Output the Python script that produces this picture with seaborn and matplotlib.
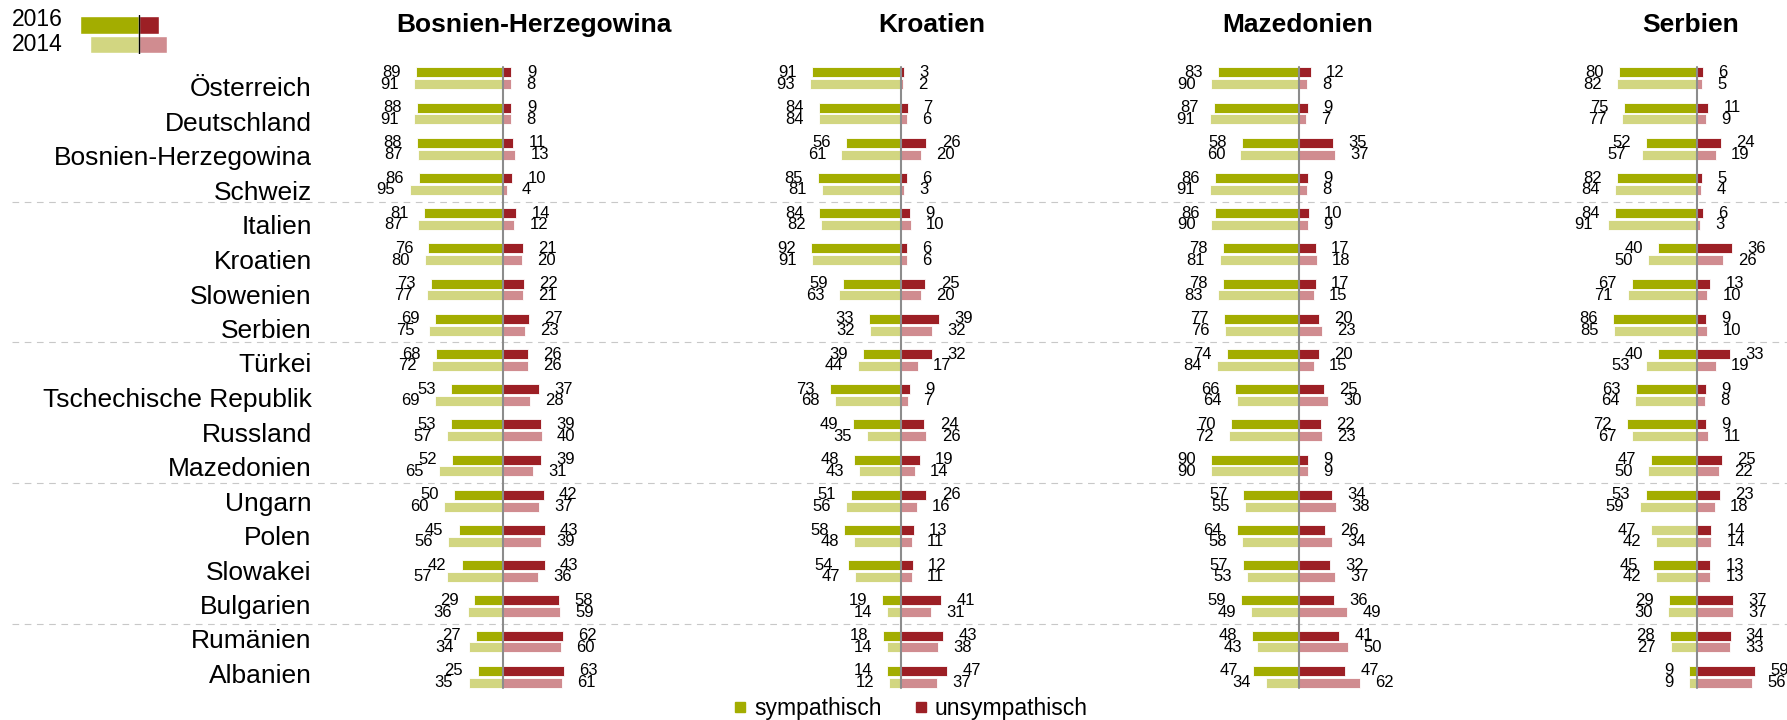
import pandas as pd
import seaborn as sns
import matplotlib.pyplot as plt
from matplotlib.lines import Line2D

sns.set_style("white")
plt.rcParams['font.family'] = ['Liberation Sans', 'DejaVu Sans']
plt.rcParams['text.color'] = 'black'
plt.rcParams['ytick.color'] = 'black'
plt.rcParams['ytick.labelcolor'] = 'black'

# --- Daten ---
COUNTRIES = ["Österreich", "Deutschland", "Bosnien-Herzegowina", "Schweiz",
             "Italien", "Kroatien", "Slowenien", "Serbien",
             "Türkei", "Tschechische Republik", "Russland", "Mazedonien",
             "Ungarn", "Polen", "Slowakei", "Bulgarien",
             "Rumänien", "Albanien"]
PANELS = ["Bosnien-Herzegowina", "Kroatien", "Mazedonien", "Serbien"]
YEARS = ["2016", "2014"]
GROUP_STARTS = [4, 8, 12, 16]   # Trennlinien vor diesen Zeilen

# Bosnien-Herzegowina
BIH_SYM_2016 = [89, 88, 88, 86, 81, 76, 73, 69, 68, 53, 53, 52, 50, 45, 42, 29, 27, 25]
BIH_SYM_2014 = [91, 91, 87, 95, 87, 80, 77, 75, 72, 69, 57, 65, 60, 56, 57, 36, 34, 35]
BIH_UNS_2016 = [9, 9, 11, 10, 14, 21, 22, 27, 26, 37, 39, 39, 42, 43, 43, 58, 62, 63]
BIH_UNS_2014 = [8, 8, 13, 4, 12, 20, 21, 23, 26, 28, 40, 31, 37, 39, 36, 59, 60, 61]
# Kroatien
HR_SYM_2016 = [91, 84, 56, 85, 84, 92, 59, 33, 39, 73, 49, 48, 51, 58, 54, 19, 18, 14]
HR_SYM_2014 = [93, 84, 61, 81, 82, 91, 63, 32, 44, 68, 35, 43, 56, 48, 47, 14, 14, 12]
HR_UNS_2016 = [3, 7, 26, 6, 9, 6, 25, 39, 32, 9, 24, 19, 26, 13, 12, 41, 43, 47]
HR_UNS_2014 = [2, 6, 20, 3, 10, 6, 20, 32, 17, 7, 26, 14, 16, 11, 11, 31, 38, 37]
# Mazedonien
MK_SYM_2016 = [83, 87, 58, 86, 86, 78, 78, 77, 74, 66, 70, 90, 57, 64, 57, 59, 48, 47]
MK_SYM_2014 = [90, 91, 60, 91, 90, 81, 83, 76, 84, 64, 72, 90, 55, 58, 53, 49, 43, 34]
MK_UNS_2016 = [12, 9, 35, 9, 10, 17, 17, 20, 20, 25, 22, 9, 34, 26, 32, 36, 41, 47]
MK_UNS_2014 = [8, 7, 37, 8, 9, 18, 15, 23, 15, 30, 23, 9, 38, 34, 37, 49, 50, 62]
# Serbien
RS_SYM_2016 = [80, 75, 52, 82, 84, 40, 67, 86, 40, 63, 72, 47, 53, 47, 45, 29, 28, 9]
RS_SYM_2014 = [82, 77, 57, 84, 91, 50, 71, 85, 53, 64, 67, 50, 59, 42, 42, 30, 27, 9]
RS_UNS_2016 = [6, 11, 24, 5, 6, 36, 13, 9, 33, 9, 9, 25, 23, 14, 13, 37, 34, 59]
RS_UNS_2014 = [5, 9, 19, 4, 3, 26, 10, 10, 19, 8, 11, 22, 18, 14, 13, 37, 33, 56]

# Mini-Legende oben links
LEG_SYM = [59, 49]
LEG_UNS = [20, 28]

SERIES = {
    "Bosnien-Herzegowina": (BIH_SYM_2016, BIH_SYM_2014, BIH_UNS_2016, BIH_UNS_2014),
    "Kroatien": (HR_SYM_2016, HR_SYM_2014, HR_UNS_2016, HR_UNS_2014),
    "Mazedonien": (MK_SYM_2016, MK_SYM_2014, MK_UNS_2016, MK_UNS_2014),
    "Serbien": (RS_SYM_2016, RS_SYM_2014, RS_UNS_2016, RS_UNS_2014),
}

rows = []
for panel, (s16, s14, u16, u14) in SERIES.items():
    for side, year, vals in [("sym", "2016", s16), ("sym", "2014", s14),
                             ("uns", "2016", u16), ("uns", "2014", u14)]:
        for c, v in zip(COUNTRIES, vals):
            rows.append({"panel": panel, "side": side, "year": year,
                         "country": c, "value": -v if side == "sym" else v})
df = pd.DataFrame(rows)

# --- Farben / Layout ---
GREEN_DARK = "#a3ad00"
GREEN_LIGHT = "#d2d681"
RED_DARK = "#9c1f25"
RED_LIGHT = "#d08c90"
W, H = 1787, 720
PX_PER_UNIT = 0.977
ZERO_X = [502.7, 901.0, 1299.1, 1697.3]
TITLE_X = [534, 932, 1298, 1691]
BAR_TOP, BAR_BOT = 60.7, 694.3


def fx(px):
    return px / W


def fy(px):
    return 1 - px / H


fig = plt.figure(figsize=(W / 100, H / 100), dpi=100)

# Trennlinien
bg = fig.add_axes([0, fy(BAR_BOT), 1, (BAR_BOT - BAR_TOP) / H], zorder=-1)
bg.set_xlim(0, W)
bg.set_ylim(len(COUNTRIES) - 0.5, -0.5)
bg.axis('off')
for b in GROUP_STARTS:
    bg.hlines(b - 0.5, 12, W, colors="#c8c8c8", linewidth=0.8,
              linestyles=(0, (6, 5)))

# Zeilenbeschriftung
lab = fig.add_axes([fx(311.7), fy(690.75), 0.0005, 621 / H])
lab.set_ylim(len(COUNTRIES) - 0.5, -0.5)
lab.set_yticks(range(len(COUNTRIES)))
lab.set_yticklabels(COUNTRIES, fontsize=19, color='black')
lab.tick_params(axis='y', length=0, pad=0)
lab.set_xticks([])
for s in lab.spines.values():
    s.set_visible(False)
lab.patch.set_alpha(0)

half = 100 * PX_PER_UNIT
for k, panel in enumerate(PANELS):
    ax = fig.add_axes([fx(ZERO_X[k] - half), fy(BAR_BOT), 2 * half / W,
                       (BAR_BOT - BAR_TOP) / H])
    d = df[df["panel"] == panel]
    sns.barplot(data=d[d["side"] == "sym"], x="value", y="country", hue="year",
                order=COUNTRIES, hue_order=YEARS,
                palette={"2016": GREEN_DARK, "2014": GREEN_LIGHT}, saturation=1,
                orient='h', width=0.66, gap=0.14, errorbar=None, legend=False,
                edgecolor='white', linewidth=0.6, ax=ax)
    sns.barplot(data=d[d["side"] == "uns"], x="value", y="country", hue="year",
                order=COUNTRIES, hue_order=YEARS,
                palette={"2016": RED_DARK, "2014": RED_LIGHT}, saturation=1,
                orient='h', width=0.66, gap=0.14, errorbar=None, legend=False,
                edgecolor='white', linewidth=0.6, ax=ax)
    for cont in ax.containers:
        ax.bar_label(cont, labels=[f"{abs(v):.0f}" for v in cont.datavalues],
                     padding=11, fontsize=12, color='black')
    # im Original ist dieser Balken hell eingefärbt
    if panel == "Serbien":
        ax.containers[0][COUNTRIES.index("Polen")].set_facecolor(GREEN_LIGHT)
    ax.axvline(0, ymin=0.01, ymax=0.99, color="#8c8c8c", linewidth=1.5, zorder=3)
    ax.set_xlim(-100, 100)
    ax.set_ylim(len(COUNTRIES) - 0.5, -0.5)
    ax.axis('off')
    fig.text(fx(TITLE_X[k]), fy(25), panel, ha='center', va='center',
             fontsize=19, fontweight='bold')

# Jahreslegende oben links
leg = fig.add_axes([fx(79), fy(54.25), 90 / W, 39 / H])
sns.barplot(x=[-v for v in LEG_SYM], y=YEARS, hue=YEARS, orient='h',
            palette={"2016": GREEN_DARK, "2014": GREEN_LIGHT}, saturation=1,
            width=0.92, legend=False, ax=leg)
sns.barplot(x=LEG_UNS, y=YEARS, hue=YEARS, orient='h',
            palette={"2016": RED_DARK, "2014": RED_LIGHT}, saturation=1,
            width=0.92, legend=False, ax=leg)
leg.axvline(0, color="black", linewidth=1, zorder=3)
leg.set_xlim(-60, 30)
leg.set_ylim(1.5, -0.5)
leg.axis('off')
fig.text(fx(11.7), fy(20), "2016", ha='left', va='center', fontsize=16.5)
fig.text(fx(11.7), fy(44.3), "2014", ha='left', va='center', fontsize=16.5)

# Legende unten
handles = [Line2D([], [], marker='s', linestyle='none', markersize=7.5,
                  color=GREEN_DARK, label="sympathisch"),
           Line2D([], [], marker='s', linestyle='none', markersize=7.5,
                  color=RED_DARK, label="unsympathisch")]
fig.legend(handles=handles, loc='center', bbox_to_anchor=(fx(910.5), fy(709)),
           ncol=2, frameon=False, fontsize=16.5, handlelength=0.6,
           handletextpad=0.3, columnspacing=1.4, borderpad=0, borderaxespad=0)

fig.savefig("out.png", dpi=100)
